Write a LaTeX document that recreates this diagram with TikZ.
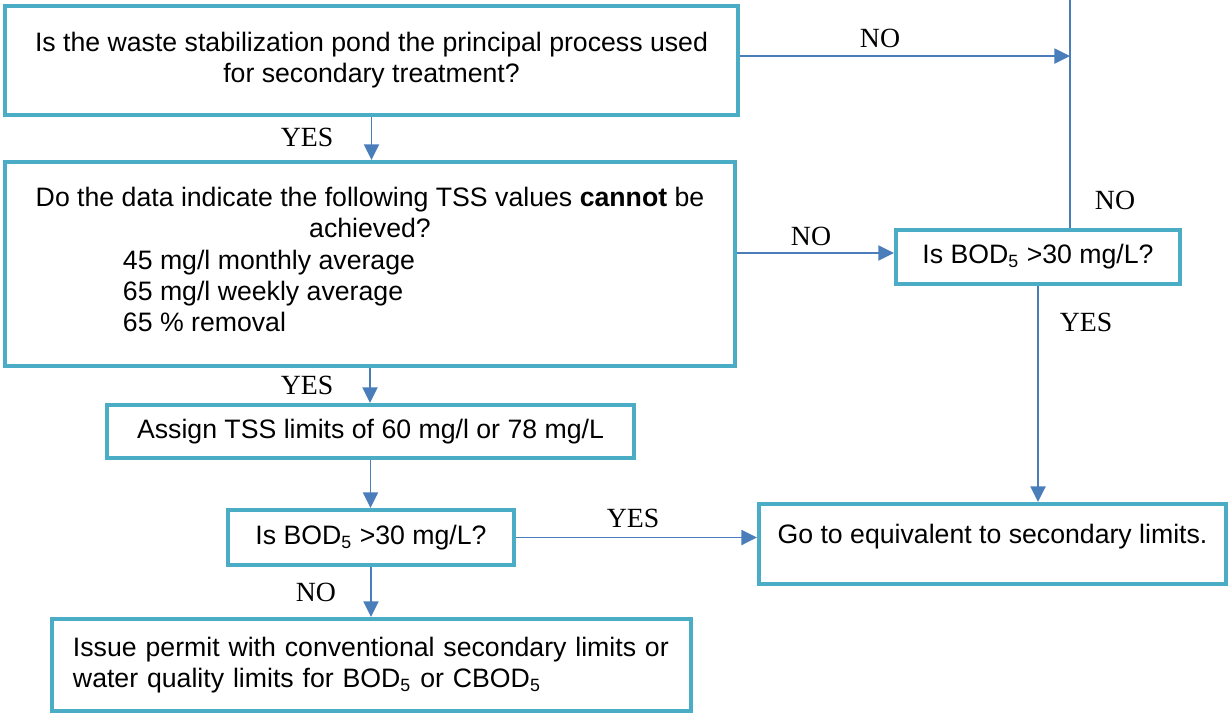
\documentclass[tikz,border=0pt]{standalone}
\usepackage{fontspec}
\setmainfont{Liberation Sans}
\newfontfamily\labelfont{Liberation Serif}
\usetikzlibrary{arrows.meta}
\definecolor{boxline}{RGB}{75,172,198}
\definecolor{arrowline}{RGB}{74,126,187}

\begin{document}
\begin{tikzpicture}[x=0.45pt, y=-0.45pt,
  box/.style={draw=boxline, line width=1.8pt, fill=white, align=center, inner sep=0pt, font=\fontsize{12}{14}\selectfont},
  flow/.style={draw=arrowline, line width=0.7pt, -{Triangle[length=7pt,width=6.8pt]}},
  lbl/.style={font=\labelfont\fontsize{12.5}{14}\selectfont, inner sep=0pt}]
  \useasboundingbox (0,0) rectangle (1230,715);
  % Left column
  \node[box, minimum width=329.85pt, minimum height=49.05pt] (pond) at (371.5,60.5)
    {Is the waste stabilization pond the principal process used\\for secondary treatment?};
  \node[box, minimum width=328.5pt, minimum height=91.8pt] (tss) at (370,264)
    {Do the data indicate the following TSS values \textbf{cannot} be\\achieved?\\
     \hspace*{-90.9pt}\begin{tabular}[t]{@{}l@{}}45 mg/l monthly average\\65 mg/l weekly average\\65 \% removal\end{tabular}};
  \node[box, minimum width=237.15pt, minimum height=23.85pt] (assign) at (370.5,431.5)
    {Assign TSS limits of 60 mg/l or 78 mg/L};
  \node[box, minimum width=128.7pt, minimum height=24.75pt] (bodA) at (371,537.5)
    {Is BOD\textsubscript{5} >30 mg/L?};
  \node[box, align=left, text width=268.65pt, inner xsep=9.45pt, minimum height=41.4pt] (permit) at (371.5,665)
    {Issue permit with conventional secondary limits or\\water quality limits for BOD\textsubscript{5} or CBOD\textsubscript{5}};
  % Right column
  \node[box, minimum width=127.8pt, minimum height=24.3pt] (bodB) at (1038,257)
    {Is BOD\textsubscript{5} >30 mg/L?};
  \node[box, minimum width=210.15pt, minimum height=36pt, text depth=9pt] (equiv) at (992.5,544)
    {Go to equivalent to secondary limits.};
  \coordinate (top) at (1070,0);

  % Connectors
  \draw[flow] (pond.south) -- (pond.south |- tss.north);
  \draw[flow] (tss.south) -- (tss.south |- assign.north);
  \draw[flow] (assign.south) -- (assign.south |- bodA.north);
  \draw[flow] (bodA.south) -- (bodA.south |- permit.north);
  \draw[flow] (bodA.east) -- (bodA.east -| equiv.west);
  \draw[flow] ([yshift=1.8pt]tss.east |- bodB.west) -- ([yshift=1.8pt]bodB.west);
  \draw[flow] (bodB.south) -- (bodB.south |- equiv.north);
  \draw[flow] ([yshift=2pt]pond.east) -- ([yshift=2pt]pond.east -| top);
  \draw[draw=arrowline, line width=0.7pt] (bodB.north -| top) -- (top);

  % Labels
  \node[lbl] (yesA) at (307,137) {YES};
  \node[lbl] (yesB) at (307,385) {YES};
  \node[lbl] (noA) at (316,592) {NO};
  \node[lbl] (yesC) at (633,518) {YES};
  \node[lbl] (noB) at (880,38) {NO};
  \node[lbl] (noC) at (811,236) {NO};
  \node[lbl] (noD) at (1115,200) {NO};
  \node[lbl] (yesD) at (1086,322) {YES};
\end{tikzpicture}
\end{document}
